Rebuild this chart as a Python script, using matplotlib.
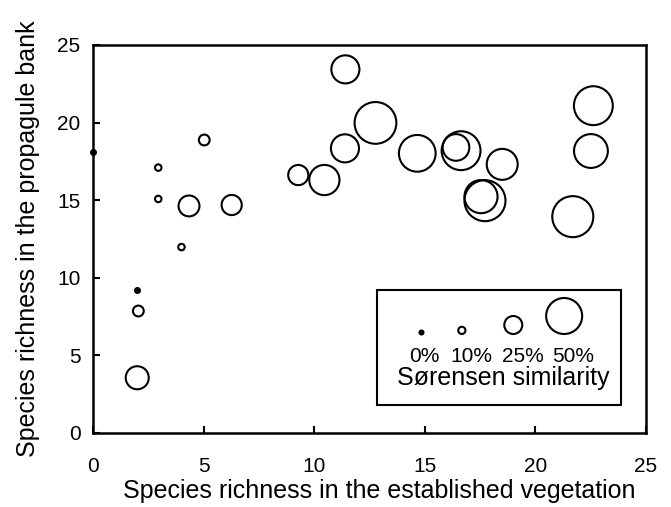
import matplotlib

matplotlib.use("Agg")
import matplotlib.pyplot as plt
from matplotlib.patches import Rectangle

plt.rcParams["font.family"] = ["Liberation Sans", "DejaVu Sans"]

# established richness, propagule-bank richness, Sørensen similarity (%)
established = [0.0, 2.0, 2.05, 2.0, 2.95, 2.95, 5.03, 4.0, 4.34, 6.27, 9.28, 10.46,
               11.39, 11.41, 12.77, 14.66, 16.41, 16.64, 18.5, 17.54, 17.72, 22.62,
               22.51, 21.69]
propagule = [18.1, 9.2, 7.86, 3.56, 17.1, 15.08, 18.88, 11.98, 14.63, 14.69, 16.62, 16.3,
             18.34, 23.43, 19.98, 18.02, 18.4, 18.19, 17.31, 15.23, 14.97, 21.09,
             18.17, 13.94]
similarity = [0, 0, 15, 32, 9, 9, 15, 9, 29, 28, 28, 42,
              39, 39, 58, 51, 37, 54, 43, 46, 57, 54,
              47, 57]

legend_values = [0, 10, 25, 50]
legend_labels = ["0%", "10%", "25%", "50%"]
legend_title = "Sørensen similarity"

PX = 72.0 / 100.0  # points per pixel at dpi 100
DOT_SIZE = (7 * PX) ** 2


def marker_size(sim):
    # marker diameter grows linearly with similarity
    return (0.72 * sim * PX) ** 2


def draw_points(ax, xs, ys, sims, **kw):
    for x, y, s in zip(xs, ys, sims):
        if s == 0:
            ax.scatter([x], [y], s=DOT_SIZE, color="black", linewidths=0, zorder=3, **kw)
        else:
            ax.scatter([x], [y], s=marker_size(s), facecolors="none", edgecolors="black",
                       linewidths=1.5, zorder=3, **kw)


fig = plt.figure(figsize=(6.71, 5.07), dpi=100)
ax = fig.add_axes([93 / 671, 1 - 433 / 507, 553 / 671, 388 / 507])

draw_points(ax, established, propagule, similarity, clip_on=False)

ax.set_xlim(0, 25)
ax.set_ylim(0, 25)
ax.set_xticks([0, 5, 10, 15, 20, 25])
ax.set_yticks([0, 5, 10, 15, 20, 25])
ax.tick_params(axis="both", direction="in", length=5, width=1.5, labelsize=15)
ax.tick_params(axis="x", pad=17)
ax.tick_params(axis="y", pad=9)
for spine in ax.spines.values():
    spine.set_linewidth(1.8)

ax.set_xlabel("Species richness in the established vegetation", fontsize=18)
ax.xaxis.set_label_coords(0.518, -0.118)
ax.set_ylabel("Species richness in the propagule bank", fontsize=18, labelpad=12)

# legend box drawn in axes fraction coordinates
ax.add_patch(Rectangle((0.514, 0.072), 0.441, 0.297, transform=ax.transAxes,
                       facecolor="white", edgecolor="black", linewidth=1.5, zorder=4))
legend_x = [0.593, 0.667, 0.760, 0.852]
label_x = [0.600, 0.685, 0.777, 0.869]
for lx, tx, val, lab in zip(legend_x, label_x, legend_values, legend_labels):
    d_px = 7 if val == 0 else 0.72 * val + 2
    cy = (433 - (335 - d_px / 2)) / 388
    if val == 0:
        ax.scatter([lx], [cy], s=DOT_SIZE * 0.75, color="black", linewidths=0,
                   transform=ax.transAxes, zorder=5, clip_on=False)
    else:
        ax.scatter([lx], [cy], s=marker_size(val), facecolors="none", edgecolors="black",
                   linewidths=1.5, transform=ax.transAxes, zorder=5, clip_on=False)
    ax.text(tx, 0.196, lab, transform=ax.transAxes, ha="center", va="center",
            fontsize=15, zorder=5)
ax.text(0.741, 0.142, legend_title, transform=ax.transAxes, ha="center", va="center",
        fontsize=18, zorder=5)

fig.savefig("out.png", dpi=100)
